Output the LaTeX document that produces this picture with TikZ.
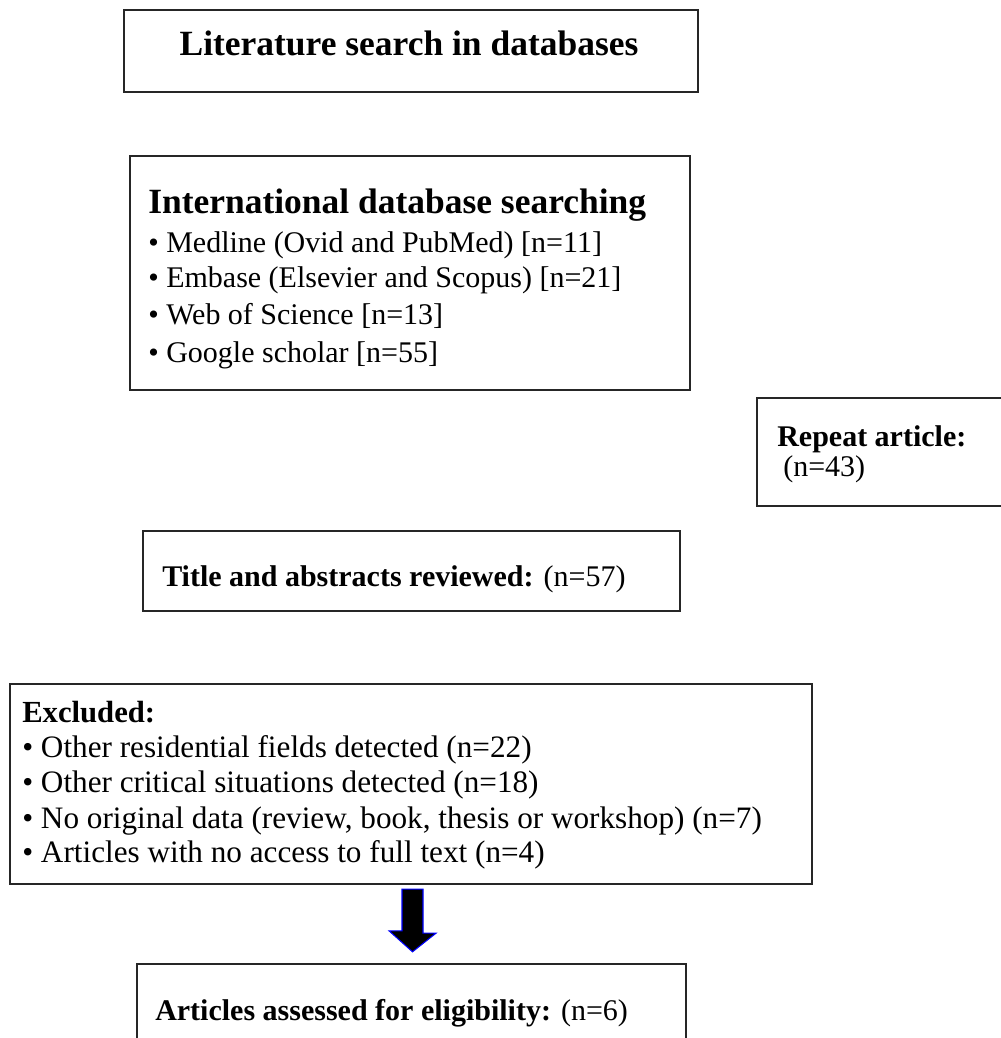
\documentclass[tikz,border=0pt]{standalone}
\usepackage{fontspec}
\setmainfont{Liberation Serif}
\usetikzlibrary{fit}
\begin{document}
\begin{tikzpicture}[x=0.75pt,y=-0.75pt,
  box/.style={draw=black!85, line width=1.8pt, inner sep=0pt},
  txt/.style={anchor=base west, inner sep=0pt, font=\fontsize{22.5}{27}\selectfont},
  etxt/.style={anchor=base west, inner sep=0pt, font=\fontsize{23.4}{28}\selectfont},
  hd/.style={anchor=base west, inner sep=0pt, font=\fontsize{26.6}{31}\selectfont\bfseries},
  blockarrow/.style={fill=black, draw=blue, line width=0.8pt, line join=miter}]
\useasboundingbox (0,0) rectangle (1000,1038);
% boxes
\node[box, fit={(124,10)(698,92)}] (lit) {};
\node[box, fit={(130,156)(690,390)}] (intl) {};
\node[box, fit={(757,398)(1012,506)}] (rep) {};
\node[box, fit={(143,531)(680,611)}] (tar) {};
\node[box, fit={(10,684)(812,884)}] (exc) {};
\node[box, fit={(137,964)(686,1050)}] (art) {};
% texts
\node[hd, anchor=base] (litT) at (409,56) {Literature search in databases};
\node[hd] (intlH) at (148,213) {International database searching};
\node[txt] (intl1) at (148,252) {\textbullet\ Medline (Ovid and PubMed) [n=11]};
\node[txt] (intl2) at (148,287) {\textbullet\ Embase (Elsevier and Scopus) [n=21]};
\node[txt] (intl3) at (148,324) {\textbullet\ Web of Science [n=13]};
\node[txt] (intl4) at (148,362) {\textbullet\ Google scholar [n=55]};
\node[txt, font=\fontsize{22.5}{27}\selectfont\bfseries] (repH) at (777,446) {Repeat article:};
\node[txt] (repN) at (783,476) {(n=43)};
\node[txt] (tarT) at (162,586) {\textbf{Title and abstracts reviewed:} (n=57)};
\node[etxt, font=\fontsize{23}{28}\selectfont\bfseries] (excH) at (22,722) {Excluded:};
\node[etxt] (exc1) at (22,757) {\textbullet\ Other residential fields detected (n=22)};
\node[etxt] (exc2) at (22,792) {\textbullet\ Other critical situations detected (n=18)};
\node[etxt] (exc3) at (22,828) {\textbullet\ No original data (review, book, thesis or workshop) (n=7)};
\node[etxt] (exc4) at (22,862) {\textbullet\ Articles with no access to full text (n=4)};
\node[txt] (artT) at (155,1020) {\textbf{Articles assessed for eligibility:} (n=6)};
% block arrow from Excluded to Articles
\coordinate (at) at (exc.south -| 412.5,0);
\coordinate (ah) at (art.north -| 412.5,0);
\draw[blockarrow] (at) ++(-10.5,4) -- ++(21,0) -- ++(0,44) -- ++(13,0) -- ([yshift=11*0.75pt]ah) -- ++(-23.5,-21) -- ++(13,0) -- cycle;
\end{tikzpicture}
\end{document}
